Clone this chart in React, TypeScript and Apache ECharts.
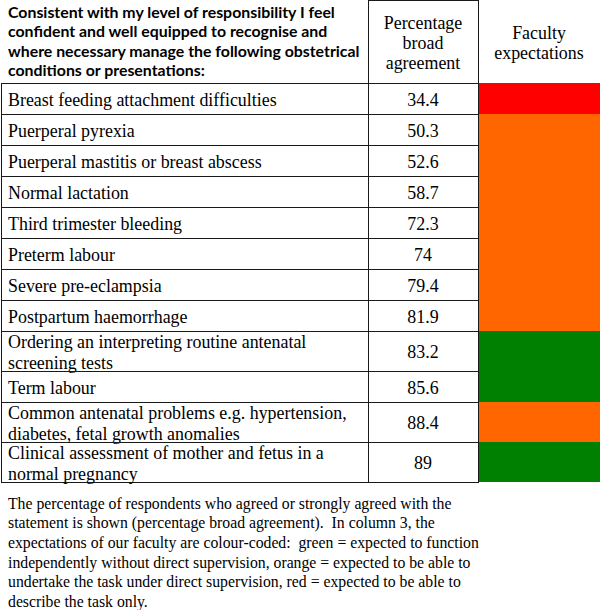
import React, { useEffect, useRef } from "react";
import * as echarts from "echarts";

// ---- data ----
const headerLines = [
  "Consistent with my level of responsibility I feel",
  "confident and well equipped to recognise and",
  "where necessary manage the following obstetrical",
  "conditions or presentations:",
];
const col2Header = ["Percentage", "broad", "agreement"];
const col3Header = ["Faculty", "expectations"];
const conditions = [
  "Breast feeding attachment difficulties",
  "Puerperal pyrexia",
  "Puerperal mastitis or breast abscess",
  "Normal lactation",
  "Third trimester bleeding",
  "Preterm labour",
  "Severe pre-eclampsia",
  "Postpartum haemorrhage",
  "Ordering an interpreting routine antenatal\nscreening tests",
  "Term labour",
  "Common antenatal problems e.g. hypertension,\ndiabetes, fetal growth anomalies",
  "Clinical assessment of mother and fetus in a\nnormal pregnancy",
];
const agreement = [34.4, 50.3, 52.6, 58.7, 72.3, 74, 79.4, 81.9, 83.2, 85.6, 88.4, 89];
const expectation = [
  "red", "orange", "orange", "orange", "orange", "orange", "orange", "orange",
  "green", "green", "orange", "green",
];
const footerLines = [
  "The percentage of respondents who agreed or strongly agreed with the",
  "statement is shown (percentage broad agreement).  In column 3, the",
  "expectations of our faculty are colour-coded:  green = expected to function",
  "independently without direct supervision, orange = expected to be able to",
  "undertake the task under direct supervision, red = expected to be able to",
  "describe the task only.",
];

const COLORS: Record<string, string> = { red: "#FF0000", orange: "#FF6600", green: "#008000" };
const SERIF = "'Liberation Serif', 'Times New Roman', serif";
const SANS = "Lato, 'Open Sans', sans-serif";

function fitSize(text: string, font: string, target: number): number {
  const c = document.createElement("canvas").getContext("2d");
  if (!c) return 16;
  c.font = font.replace("SIZE", "100px");
  const w = c.measureText(text).width;
  return (100 * target) / w;
}

export default function App() {
  const ref = useRef<HTMLDivElement>(null);
  useEffect(() => {
    if (!ref.current) return;
    const chart = echarts.init(ref.current, null, { renderer: "svg" });

    const bodySize = fitSize(conditions[0], `normal SIZE ${SERIF}`, 269);
    const footSize = fitSize(footerLines[0], `normal SIZE ${SERIF}`, 444);
    const headSize = fitSize(headerLines[2], `bold SIZE ${SANS}`, 352);

    const colX = [1, 368, 478, 600];
    const single = 31, dbl = 40;
    let acc = 0;
    const rows = conditions.map((c, i) => {
      const h = c.includes("\n") ? dbl : single;
      const r = [acc, acc + h, i];
      acc += h;
      return r;
    });
    const total = acc;
    const lineColor = "#1a1a1a";

    const graphics: any[] = [];
    headerLines.forEach((t, i) => {
      graphics.push({
        type: "text", left: 8, top: 13 + i * 19.3 - headSize * 0.6,
        style: { text: t, font: `bold ${headSize}px ${SANS}`, fill: "#000" },
      });
    });
    col2Header.forEach((t, i) => {
      graphics.push({
        type: "text", x: 423, y: 23 + i * 20,
        style: { text: t, font: `normal ${bodySize}px ${SERIF}`, fill: "#000", textAlign: "center", textVerticalAlign: "middle" },
      });
    });
    col3Header.forEach((t, i) => {
      graphics.push({
        type: "text", x: 539, y: 33 + i * 20,
        style: { text: t, font: `normal ${bodySize}px ${SERIF}`, fill: "#000", textAlign: "center", textVerticalAlign: "middle" },
      });
    });
    graphics.push(
      { type: "line", shape: { x1: 368, y1: 0.5, x2: 478, y2: 0.5 }, style: { stroke: lineColor, lineWidth: 1 } },
      { type: "line", shape: { x1: 368.5, y1: 0, x2: 368.5, y2: 83 }, style: { stroke: lineColor, lineWidth: 1 } },
      { type: "line", shape: { x1: 478.5, y1: 0, x2: 478.5, y2: 83 }, style: { stroke: lineColor, lineWidth: 1 } },
    );
    footerLines.forEach((t, i) => {
      graphics.push({
        type: "text", x: 8, y: 503 + i * 19.7,
        style: { text: t, font: `normal ${footSize}px ${SERIF}`, fill: "#000", textVerticalAlign: "middle" },
      });
    });

    chart.setOption({
      animation: false,
      grid: { left: 0, right: 0, top: 83, bottom: 610 - 83 - total, containLabel: false },
      xAxis: { type: "value", min: 0, max: 600, show: false },
      yAxis: { type: "value", min: 0, max: total, inverse: true, show: false },
      graphic: graphics,
      series: [
        {
          type: "custom",
          data: rows,
          encode: { x: -1, y: [0, 1] },
          renderItem: (params: any, api: any) => {
            const idx = api.value(2);
            const y0 = Math.round(api.coord([0, api.value(0)])[1]);
            const y1 = Math.round(api.coord([0, api.value(1)])[1]);
            const xs = colX.map((x) => api.coord([x, 0])[0]);
            const cy = (y0 + y1) / 2;
            const children: any[] = [
              {
                type: "rect",
                shape: { x: xs[2], y: y0, width: xs[3] - xs[2], height: y1 - y0 },
                style: { fill: COLORS[expectation[idx]] },
              },
              {
                type: "line",
                shape: { x1: xs[0], y1: y0 + 0.5, x2: xs[2] + 1, y2: y0 + 0.5 },
                style: { stroke: lineColor, lineWidth: 1 },
              },
            ];
            [0, 1, 2].forEach((k) => {
              children.push({
                type: "line",
                shape: { x1: Math.round(xs[k]) + 0.5, y1: y0, x2: Math.round(xs[k]) + 0.5, y2: y1 + 1 },
                style: { stroke: lineColor, lineWidth: 1 },
              });
            });
            if (idx === conditions.length - 1) {
              children.push({
                type: "line",
                shape: { x1: xs[0], y1: y1 + 0.5, x2: xs[2] + 1, y2: y1 + 0.5 },
                style: { stroke: lineColor, lineWidth: 1 },
              });
            }
            children.push({
              type: "text",
              style: {
                text: conditions[idx], x: 8, y: cy + 1,
                font: `normal ${bodySize}px ${SERIF}`, fill: "#000",
                textVerticalAlign: "middle", lineHeight: 21,
              },
            });
            children.push({
              type: "text",
              style: {
                text: String(api.value(3)), x: (xs[1] + xs[2]) / 2, y: cy + 1,
                font: `normal ${bodySize}px ${SERIF}`, fill: "#000",
                textAlign: "center", textVerticalAlign: "middle",
              },
            });
            return { type: "group", children };
          },
        },
      ],
    });
    // attach agreement values as 4th dimension
    chart.setOption({
      series: [{ data: rows.map((r, i) => [...r, agreement[i]]) }],
    });
    return () => chart.dispose();
  }, []);
  return (
    <div
      ref={ref}
      style={{ position: "fixed", left: 0, top: 0, width: 600, height: 610, background: "#fff" }}
    />
  );
}
